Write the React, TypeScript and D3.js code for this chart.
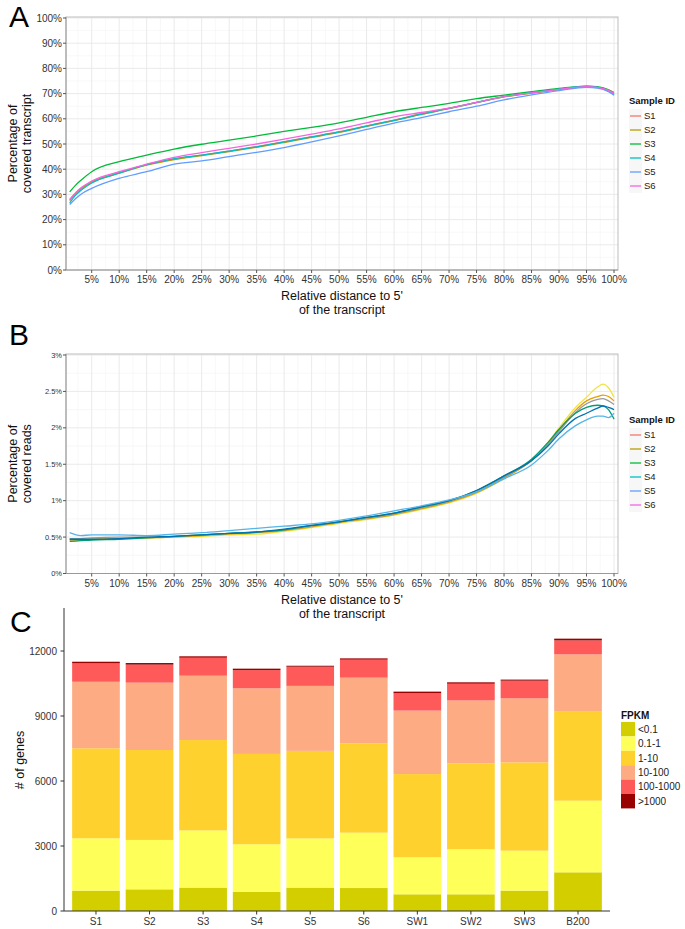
import React, { useEffect, useRef } from "react";
import * as d3 from "d3";

// ---- panel A / B shared ----
const sampleIds = ["S1", "S2", "S3", "S4", "S5", "S6"];
const legendColors = ["#F8766D", "#B79F00", "#00BA38", "#00BFC4", "#619CFF", "#F564E3"];
const xTickValues = [5, 10, 15, 20, 25, 30, 35, 40, 45, 50, 55, 60, 65, 70, 75, 80, 85, 90, 95, 100];

// ---- panel A: percentage of covered transcript ----
const posA = [1, 2, 3, 5, 10, 15, 20, 25, 30, 35, 40, 45, 50, 55, 60, 65, 70, 75, 80, 85, 90, 95, 97, 99, 100];
const transcriptS1 = [27.8, 30.3, 32.2, 35, 38.6, 41.8, 44, 45.6, 47.2, 49, 50.9, 52.9, 54.9, 57.2, 59.5, 62, 64.2, 66.5, 68.8, 70.3, 71.7, 72.8, 72.5, 71.5, 70.5];
const transcriptS2 = [27.5, 30, 32, 34.7, 38.4, 41.6, 43.8, 45.4, 47, 48.7, 50.6, 52.6, 54.6, 57, 59.3, 61.8, 64, 66.4, 68.7, 70.2, 71.6, 72.7, 72.4, 71.4, 70.4];
const transcriptS3 = [31, 33.5, 35.5, 39, 43, 45.6, 48, 49.9, 51.5, 53.2, 55, 56.6, 58.4, 60.6, 62.8, 64.5, 66.1, 68, 69.4, 70.8, 72.1, 73, 72.8, 71.5, 70];
const transcriptS4 = [26.6, 29.5, 31.5, 34.5, 38.4, 41.8, 44.2, 45.6, 47.2, 48.9, 50.8, 52.8, 54.8, 57.1, 59.4, 61.9, 64.1, 66.5, 68.8, 70.4, 71.8, 73, 72.6, 71, 69.5];
const transcriptS5 = [26, 28.2, 30, 32.4, 36.4, 39, 42, 43.3, 45, 46.7, 48.6, 50.8, 53.2, 55.8, 58.3, 60.5, 62.8, 65, 67.5, 69.5, 71.2, 72.5, 72.2, 70.8, 69.4];
const transcriptS6 = [28, 30.5, 32.5, 35.3, 39, 42, 44.7, 46.6, 48.3, 50, 51.9, 53.9, 56, 58.4, 60.8, 62.5, 64.2, 66.5, 68.8, 70.3, 71.7, 72.8, 72.5, 71.3, 70];
const yTicksA = [0, 10, 20, 30, 40, 50, 60, 70, 80, 90, 100];

// ---- panel B: percentage of covered reads ----
const posB = [1, 3, 5, 10, 15, 20, 25, 30, 35, 40, 45, 50, 55, 60, 65, 70, 75, 80, 85, 88, 90, 93, 95, 97, 98, 99, 100];
const readsS1 = [0.47, 0.46, 0.47, 0.47, 0.49, 0.5, 0.51, 0.53, 0.54, 0.58, 0.63, 0.69, 0.74, 0.8, 0.88, 0.97, 1.1, 1.3, 1.56, 1.8, 2.0, 2.28, 2.42, 2.56, 2.6, 2.55, 2.42];
const readsS2 = [0.46, 0.46, 0.47, 0.48, 0.49, 0.5, 0.52, 0.54, 0.56, 0.59, 0.64, 0.7, 0.75, 0.81, 0.89, 0.98, 1.11, 1.31, 1.55, 1.78, 1.97, 2.24, 2.37, 2.43, 2.45, 2.43, 2.37];
const readsS3 = [0.48, 0.48, 0.49, 0.5, 0.5, 0.51, 0.53, 0.55, 0.57, 0.6, 0.65, 0.71, 0.76, 0.82, 0.9, 0.99, 1.12, 1.32, 1.55, 1.77, 1.95, 2.21, 2.33, 2.39, 2.4, 2.37, 2.32];
const readsS4 = [0.44, 0.45, 0.46, 0.47, 0.49, 0.51, 0.53, 0.55, 0.57, 0.6, 0.66, 0.71, 0.77, 0.83, 0.91, 1.0, 1.14, 1.34, 1.57, 1.8, 1.98, 2.2, 2.28, 2.31, 2.3, 2.25, 2.12];
const readsS5 = [0.47, 0.47, 0.47, 0.48, 0.5, 0.51, 0.53, 0.55, 0.57, 0.61, 0.66, 0.71, 0.77, 0.83, 0.92, 1.0, 1.14, 1.34, 1.55, 1.75, 1.92, 2.13, 2.2, 2.27, 2.3, 2.28, 2.25];
const readsS6 = [0.56, 0.52, 0.53, 0.53, 0.52, 0.54, 0.56, 0.59, 0.62, 0.65, 0.68, 0.73, 0.79, 0.86, 0.93, 1.01, 1.12, 1.3, 1.49, 1.69, 1.85, 2.03, 2.11, 2.16, 2.16, 2.14, 2.2];
const readsColors = ["#F0E442", "#E69F00", "#999999", "#009E73", "#0072B2", "#56B4E9"];
const yTicksB = [0, 0.5, 1, 1.5, 2, 2.5, 3];
const yTickLabelsB = ["0%", "0.5%", "1%", "1.5%", "2%", "2.5%", "3%"];

// ---- panel C: genes per FPKM bin ----
const libraries = ["S1", "S2", "S3", "S4", "S5", "S6", "SW1", "SW2", "SW3", "B200"];
const fpkmBins = ["<0.1", "0.1-1", "1-10", "10-100", "100-1000", ">1000"];
const fpkmColors = ["#D2CE00", "#FFFF59", "#FFD12E", "#FCAB82", "#FF5A5A", "#990000"];
const genesLt01 = [940, 1000, 1080, 880, 1080, 1060, 770, 770, 940, 1785];
const genes01to1 = [2415, 2280, 2640, 2200, 2270, 2555, 1710, 2080, 1845, 3305];
const genes1to10 = [4155, 4150, 4170, 4170, 4040, 4125, 3840, 3965, 4075, 4110];
const genes10to100 = [3070, 3110, 2970, 3030, 3000, 3030, 2930, 2905, 2955, 2645];
const genes100to1000 = [850, 830, 830, 840, 885, 830, 800, 770, 815, 645];
const genesGt1000 = [75, 75, 65, 65, 45, 60, 75, 65, 50, 80];
const yTicksC = [0, 3000, 6000, 9000, 12000];

const FONT = "'Liberation Sans', Arial, sans-serif";

const App = () => {
  const ref = useRef<SVGSVGElement>(null);

  useEffect(() => {
    const svg = d3.select(ref.current);
    svg.selectAll("*").remove();
    svg.style("font-family", FONT);

    // ---------- line panels ----------
    const drawLinePanel = (opts: any) => {
      const { top, bottom, yDomain, yTicks, yLabels, yTickSize, series, colors, pos, panelLetter, letterY, titleLines, legendTop } = opts;
      const left = 66, right = 618;
      const x = d3.scaleLinear().domain([0, 100]).range([64.2, 614]);
      const y = d3.scaleLinear().domain(yDomain).range([bottom, top + 1]);
      const g = svg.append("g");

      // minor grid
      const minorY = yTicks.slice(0, -1).map((t: number, i: number) => (t + yTicks[i + 1]) / 2);
      g.selectAll(".minorY").data(minorY).enter().append("line")
        .attr("x1", left).attr("x2", right)
        .attr("y1", (d: number) => y(d)).attr("y2", (d: number) => y(d))
        .attr("stroke", "#F4F4F4").attr("stroke-width", 0.6);
      const minorX = xTickValues.map((t) => t - 2.5);
      g.selectAll(".minorX").data(minorX).enter().append("line")
        .attr("x1", (d: number) => x(d)).attr("x2", (d: number) => x(d))
        .attr("y1", top).attr("y2", bottom)
        .attr("stroke", "#F4F4F4").attr("stroke-width", 0.6);
      // major grid
      g.selectAll(".majorY").data(yTicks).enter().append("line")
        .attr("x1", left).attr("x2", right)
        .attr("y1", (d: number) => y(d)).attr("y2", (d: number) => y(d))
        .attr("stroke", "#E8E8E8").attr("stroke-width", 0.9);
      g.selectAll(".majorX").data(xTickValues).enter().append("line")
        .attr("x1", (d: number) => x(d)).attr("x2", (d: number) => x(d))
        .attr("y1", top).attr("y2", bottom)
        .attr("stroke", "#E8E8E8").attr("stroke-width", 0.9);

      // lines
      const line = d3.line<number>()
        .x((_d, i) => x(pos[i]))
        .y((d) => y(d))
        .curve(d3.curveMonotoneX);
      series.forEach((s: number[], i: number) => {
        g.append("path").datum(s).attr("d", line)
          .attr("fill", "none").attr("stroke", colors[i]).attr("stroke-width", 1.3);
      });

      // frame
      g.append("rect").attr("x", left).attr("y", top).attr("width", right - left).attr("height", bottom - top)
        .attr("fill", "none").attr("stroke", "#BDBDBD").attr("stroke-width", 1);
      g.append("line").attr("x1", left).attr("x2", left).attr("y1", top).attr("y2", bottom).attr("stroke", "#9A9A9A");
      g.append("line").attr("x1", left).attr("x2", right).attr("y1", bottom).attr("y2", bottom).attr("stroke", "#9A9A9A");

      // y axis ticks + labels
      g.selectAll(".yt").data(yTicks).enter().append("line")
        .attr("x1", left - 3).attr("x2", left)
        .attr("y1", (d: number) => y(d)).attr("y2", (d: number) => y(d))
        .attr("stroke", "#555");
      g.selectAll(".yl").data(yTicks).enter().append("text")
        .attr("x", left - 4).attr("y", (d: number) => y(d))
        .attr("dy", "0.35em").attr("text-anchor", "end")
        .style("font-size", yTickSize + "px").attr("fill", "#333")
        .text((_d: number, i: number) => yLabels[i]);

      // x axis ticks + labels
      g.selectAll(".xt").data(xTickValues).enter().append("line")
        .attr("x1", (d: number) => x(d)).attr("x2", (d: number) => x(d))
        .attr("y1", bottom).attr("y2", bottom + 3)
        .attr("stroke", "#555");
      g.selectAll(".xl").data(xTickValues).enter().append("text")
        .attr("x", (d: number) => x(d)).attr("y", bottom + 13)
        .attr("text-anchor", "middle")
        .style("font-size", "10px").attr("fill", "#333")
        .text((d: number) => d + "%");

      // x title
      ["Relative distance to 5'", "of the transcript"].forEach((t, i) => {
        g.append("text").attr("x", 342).attr("y", bottom + 30 + i * 14)
          .attr("text-anchor", "middle").style("font-size", "12.5px").attr("fill", "#111").text(t);
      });

      // y title
      const cy = (top + bottom) / 2;
      titleLines.forEach((t: string, i: number) => {
        g.append("text").attr("transform", `translate(${17 + i * 14},${cy}) rotate(-90)`)
          .attr("text-anchor", "middle").style("font-size", "12.5px").attr("fill", "#111").text(t);
      });

      // panel letter
      g.append("text").attr("x", 9).attr("y", letterY).style("font-size", "30px").attr("fill", "#000").text(panelLetter);

      // legend
      g.append("text").attr("x", 629).attr("y", legendTop).style("font-size", "9.5px").style("font-weight", "bold")
        .attr("fill", "#111").text("Sample ID");
      sampleIds.forEach((s, i) => {
        const cyL = legendTop + 12 + i * 14;
        g.append("rect").attr("x", 629).attr("y", cyL - 7).attr("width", 13).attr("height", 14).attr("fill", "#F7F7F7");
        g.append("line").attr("x1", 630).attr("x2", 641).attr("y1", cyL).attr("y2", cyL)
          .attr("stroke", legendColors[i]).attr("stroke-width", 1.3);
        g.append("text").attr("x", 644).attr("y", cyL).attr("dy", "0.35em")
          .style("font-size", "9.5px").attr("fill", "#222").text(s);
      });
    };

    drawLinePanel({
      top: 17, bottom: 270, yDomain: [0, 100], yTicks: yTicksA,
      yLabels: yTicksA.map((t) => t + "%"), yTickSize: 10,
      series: [transcriptS1, transcriptS2, transcriptS3, transcriptS4, transcriptS5, transcriptS6],
      colors: legendColors, pos: posA, panelLetter: "A", letterY: 27,
      titleLines: ["Percentage of", "covered transcript"], legendTop: 104,
    });

    drawLinePanel({
      top: 354, bottom: 573.5, yDomain: [0, 3], yTicks: yTicksB,
      yLabels: yTickLabelsB, yTickSize: 7.5,
      series: [readsS1, readsS2, readsS3, readsS4, readsS5, readsS6],
      colors: readsColors, pos: posB, panelLetter: "B", letterY: 345,
      titleLines: ["Percentage of", "covered reads"], legendTop: 423,
    });

    // ---------- panel C ----------
    const rows = libraries.map((lib, i) => ({
      lib,
      "<0.1": genesLt01[i],
      "0.1-1": genes01to1[i],
      "1-10": genes1to10[i],
      "10-100": genes10to100[i],
      "100-1000": genes100to1000[i],
      ">1000": genesGt1000[i],
    }));
    const stacked = d3.stack<any>().keys(fpkmBins)(rows);
    const xC = d3.scaleBand().domain(libraries).range([69.2, 604.8]).paddingInner(0.11).paddingOuter(0.055);
    const yC = d3.scaleLinear().domain([0, 13985]).range([911, 608]);
    const gc = svg.append("g");

    stacked.forEach((layer, li) => {
      gc.selectAll(".b" + li).data(layer).enter().append("rect")
        .attr("x", (d: any) => xC(d.data.lib) as number)
        .attr("width", xC.bandwidth())
        .attr("y", (d: any) => yC(d[1]))
        .attr("height", (d: any) => yC(d[0]) - yC(d[1]))
        .attr("fill", fpkmColors[li]);
    });

    gc.append("line").attr("x1", 64).attr("x2", 64).attr("y1", 608).attr("y2", 911).attr("stroke", "#333");
    gc.append("line").attr("x1", 64).attr("x2", 610).attr("y1", 911).attr("y2", 911).attr("stroke", "#333");
    gc.selectAll(".ytc").data(yTicksC).enter().append("line")
      .attr("x1", 60.5).attr("x2", 64).attr("y1", (d) => yC(d)).attr("y2", (d) => yC(d)).attr("stroke", "#333");
    gc.selectAll(".ylc").data(yTicksC).enter().append("text")
      .attr("x", 57).attr("y", (d) => yC(d)).attr("dy", "0.35em").attr("text-anchor", "end")
      .style("font-size", "10px").attr("fill", "#333").text((d) => String(d));
    gc.selectAll(".xtc").data(libraries).enter().append("line")
      .attr("x1", (d) => (xC(d) as number) + xC.bandwidth() / 2).attr("x2", (d) => (xC(d) as number) + xC.bandwidth() / 2)
      .attr("y1", 911).attr("y2", 914.5).attr("stroke", "#333");
    gc.selectAll(".xlc").data(libraries).enter().append("text")
      .attr("x", (d) => (xC(d) as number) + xC.bandwidth() / 2).attr("y", 925)
      .attr("text-anchor", "middle").style("font-size", "10px").attr("fill", "#333").text((d) => d);

    gc.append("text").attr("transform", "translate(24,760) rotate(-90)")
      .attr("text-anchor", "middle").style("font-size", "12.5px").attr("fill", "#111").text("# of genes");
    gc.append("text").attr("x", 10).attr("y", 632).style("font-size", "30px").attr("fill", "#000").text("C");

    // legend C
    gc.append("text").attr("x", 621).attr("y", 719).style("font-size", "10px").style("font-weight", "bold")
      .attr("fill", "#111").text("FPKM");
    fpkmBins.forEach((b, i) => {
      const ty = 722 + i * 14.4;
      gc.append("rect").attr("x", 621).attr("y", ty).attr("width", 14).attr("height", 14.4).attr("fill", fpkmColors[i]);
      gc.append("text").attr("x", 638).attr("y", ty + 7.2).attr("dy", "0.35em")
        .style("font-size", "10px").attr("fill", "#222").text(b);
    });
  }, []);

  return (
    <div style={{ position: "absolute", left: 0, top: 0 }}>
      <svg ref={ref} width={685} height={929} style={{ display: "block", background: "#fff" }}></svg>
    </div>
  );
};

export default App;
